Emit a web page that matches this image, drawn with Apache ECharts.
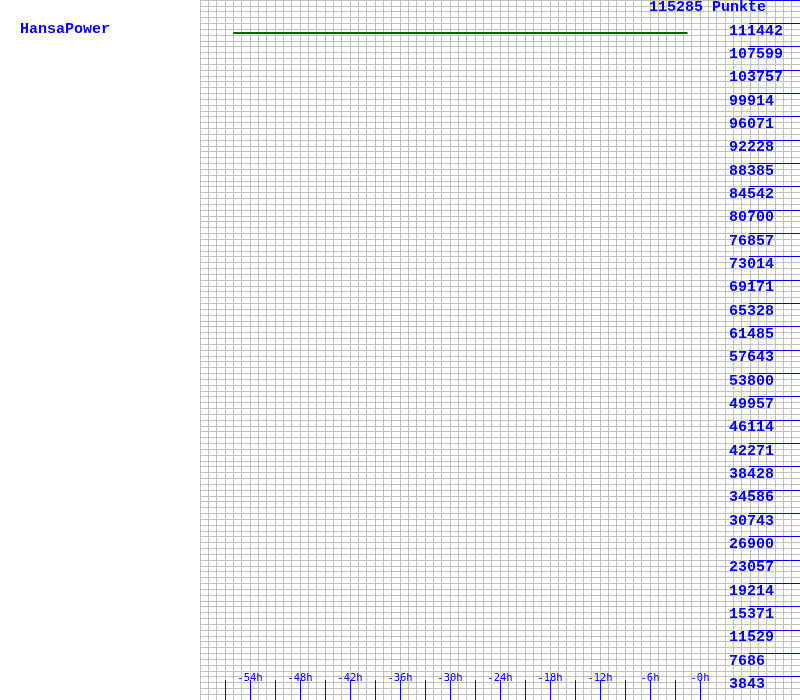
<!DOCTYPE html>
<html>
<head>
<meta charset="utf-8">
<script src="https://cdn.jsdelivr.net/npm/echarts@6/dist/echarts.min.js"></script>
<style>html,body{margin:0;padding:0;background:#fff}#c{width:800px;height:700px}</style>
</head>
<body>
<div id="c"></div>
<script>
// ---- data ----
var chartName = 'HansaPower';
var topLabel = '115285 Punkte';
var yMax = 115285;
var hours = [-56, -48, -40, -32, -24, -16, -8, -1.5];
var values = [109850, 109850, 109850, 109850, 109850, 109850, 109850, 109850];
var xTickValues = [-54, -48, -42, -36, -30, -24, -18, -12, -6, 0];
var xTickLabels = ['-54h', '-48h', '-42h', '-36h', '-30h', '-24h', '-18h', '-12h', '-6h', '-0h'];
var yTickLabels = [3843, 7686, 11529, 15371, 19214, 23057, 26900, 30743, 34586, 38428, 42271, 46114, 49957, 53800, 57643, 61485, 65328, 69171, 73014, 76857, 80700, 84542, 88385, 92228, 96071, 99914, 103757, 107599, 111442];

var blue = '#0000ff';
var grey = '#c0c0c0';
var monoFont = '"Liberation Mono", "DejaVu Sans Mono", monospace';

var chart = echarts.init(document.getElementById('c'), null, {renderer: 'canvas'});
chart.setOption({
  animation: false,
  backgroundColor: '#ffffff',
  title: [
    {text: chartName, left: 15, top: 17, textStyle: {color: blue, fontFamily: monoFont, fontWeight: 'bold', fontSize: 15}},
    {text: topLabel, left: 644, top: -5, textStyle: {color: blue, fontFamily: monoFont, fontWeight: 'bold', fontSize: 15}}
  ],
  grid: [
    {left: 200, right: 0, top: 0, bottom: 0, containLabel: false},
    {left: 225, right: 100, top: 680, bottom: 0, containLabel: false},
    {left: 749, right: 0, top: 0, bottom: 0, containLabel: false}
  ],
  xAxis: [{
    gridIndex: 0, type: 'value', min: -60, max: 12, interval: 1,
    axisLine: {show: false, onZero: false},
    splitLine: {show: true, lineStyle: {color: grey, width: 1}},
    axisTick: {show: false},
    axisLabel: {show: false}
  }, {
    gridIndex: 0, type: 'value', min: -60, max: 12, position: 'bottom',
    axisLine: {show: false, onZero: false},
    splitLine: {show: false},
    axisTick: {show: false},
    axisLabel: {
      show: true, inside: true, margin: 16, customValues: xTickValues,
      color: blue, fontFamily: '"DejaVu Sans Mono", monospace', fontSize: 10.5,
      formatter: function (v) { var i = xTickValues.indexOf(v); return i >= 0 ? xTickLabels[i] : ''; }
    },
    z: 3
  }, {
    gridIndex: 1, type: 'value', min: -57, max: 0, interval: 3,
    axisLine: {show: false, onZero: false},
    axisTick: {show: false},
    axisLabel: {show: false},
    splitLine: {show: true, showMinLine: true, showMaxLine: true, lineStyle: {color: blue, width: 1}},
    z: 2
  }, {
    gridIndex: 2, type: 'value', show: false, min: 0, max: 1
  }],
  yAxis: [{
    gridIndex: 0, type: 'value', position: 'right', min: 0, max: yMax, interval: yMax / 120,
    axisLine: {show: false, onZero: false},
    splitLine: {show: true, lineStyle: {color: grey, width: 1}},
    axisTick: {show: false},
    axisLabel: {show: false}
  }, {
    gridIndex: 0, type: 'value', position: 'right', min: 0, max: yMax,
    axisLine: {show: false, onZero: false},
    splitLine: {show: false},
    axisTick: {show: false},
    axisLabel: {
      show: true, inside: true, margin: 71, align: 'left', verticalAlign: 'top', padding: [0, 0, 0, 0],
      customValues: yTickLabels,
      color: blue, fontFamily: monoFont, fontWeight: 'bold', fontSize: 15,
      formatter: function (v) { return String(v); }
    },
    z: 3
  }, {
    gridIndex: 1, type: 'value', show: false, min: 0, max: 1
  }, {
    gridIndex: 2, type: 'value', min: 0, max: yMax, interval: yMax / 30,
    axisLine: {show: false, onZero: false},
    axisTick: {show: false},
    axisLabel: {show: false},
    splitLine: {show: true, showMinLine: false, showMaxLine: false, lineStyle: {color: blue, width: 1}},
    z: 2
  }],
  series: [{
    type: 'line', showSymbol: false, symbol: 'none',
    xAxisIndex: 0, yAxisIndex: 0,
    data: hours.map(function (h, i) { return [h, values[i]]; }),
    lineStyle: {color: '#006400', width: 2},
    z: 5
  }]
});
</script>
</body>
</html>
